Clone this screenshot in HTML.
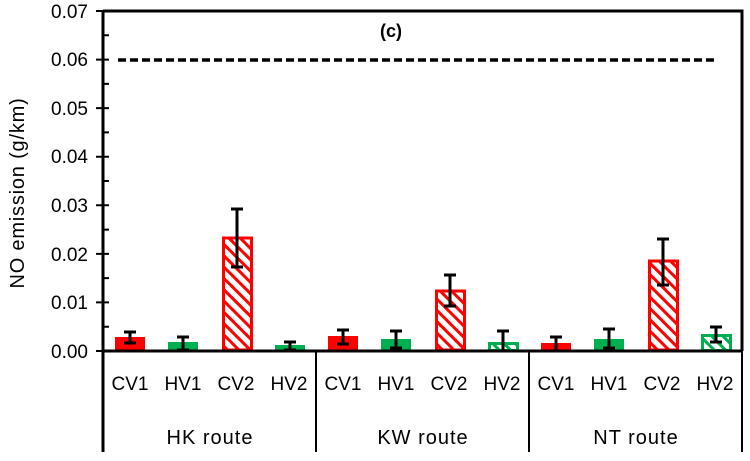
<!DOCTYPE html>
<html><head><style>body{margin:0;background:#fff}svg{display:block}text{font-family:"Liberation Sans",sans-serif;fill:#000}</style></head>
<body>
<svg width="750" height="461" viewBox="0 0 750 461">
<defs>
<pattern id="hr" patternUnits="userSpaceOnUse" width="8" height="8" patternTransform="rotate(-45)"><rect width="8" height="8" fill="#fff"/><rect x="0" y="0" width="3" height="8" fill="#f00"/></pattern>
<pattern id="hg" patternUnits="userSpaceOnUse" width="8" height="8" patternTransform="rotate(-45)"><rect width="8" height="8" fill="#fff"/><rect x="0" y="0" width="3" height="8" fill="#00b050"/></pattern>
</defs>
<g>
<rect x="115" y="337" width="30" height="14" fill="#f00"/>
<rect x="168" y="342" width="30" height="9" fill="#00b050"/>
<rect x="223.5" y="238" width="28" height="112" fill="url(#hr)" stroke="#f00" stroke-width="3"/>
<rect x="275" y="345" width="30" height="6" fill="#00b050"/>

<rect x="328" y="336" width="30" height="15" fill="#f00"/>
<rect x="381" y="339" width="30" height="12" fill="#00b050"/>
<rect x="436.5" y="291" width="28" height="59" fill="url(#hr)" stroke="#f00" stroke-width="3"/>
<rect x="489.5" y="343.5" width="28" height="7" fill="url(#hg)" stroke="#00b050" stroke-width="3"/>

<rect x="541" y="343" width="30" height="8" fill="#f00"/>
<rect x="594" y="339" width="30" height="12" fill="#00b050"/>
<rect x="649.5" y="261" width="28" height="89" fill="url(#hr)" stroke="#f00" stroke-width="3"/>
<rect x="702.5" y="335.5" width="28" height="15" fill="url(#hg)" stroke="#00b050" stroke-width="3"/>
</g>
<g stroke="#000" stroke-width="3">
<path d="M130 332V343M124 332H136M124 343H136"/>
<path d="M183 337V350M177 337H189M177 350H189"/>
<path d="M237 209V267M231 209H243M231 267H243"/>
<path d="M290 342V350M284 342H296M284 350H296"/>
<path d="M343 330V344M337 330H349M337 344H349"/>
<path d="M396 331V348M390 331H402M390 348H402"/>
<path d="M450 275V306M444 275H456M444 306H456"/>
<path d="M503 331V351M497 331H509"/>
<path d="M556 337V351M550 337H562"/>
<path d="M609 329V348M603 329H615M603 348H615"/>
<path d="M663 239V285M657 239H669M657 285H669"/>
<path d="M716 327V342M710 327H722M710 342H722"/>
</g>
<line x1="118" y1="60" x2="718" y2="60" stroke="#000" stroke-width="3.5" stroke-dasharray="8,4"/>
<g stroke="#000" stroke-width="3" fill="none">
<path d="M103 11H742V351"/>
<path d="M103 11V452"/>
<path d="M103 351H742"/>
</g>
<g stroke="#000" stroke-width="2">
<path d="M316 351V452M529 351V452M742 351V452"/>
<path d="M96 11H109M96 59.6H109M96 108.1H109M96 156.7H109M96 205.3H109M96 253.9H109M96 302.4H109M96 351H109"/>
<path d="M103 35.3H109M103 83.9H109M103 132.4H109M103 181H109M103 229.6H109M103 278.1H109M103 326.7H109"/>
</g>
<g font-size="19" text-anchor="end">
<text x="88" y="18">0.07</text><text x="88" y="66">0.06</text><text x="88" y="115">0.05</text><text x="88" y="163">0.04</text><text x="88" y="212">0.03</text><text x="88" y="261">0.02</text><text x="88" y="309">0.01</text><text x="88" y="358">0.00</text>
</g>
<text transform="translate(24,193) rotate(-90)" font-size="20" letter-spacing="0.8" text-anchor="middle">NO emission (g/km)</text>
<text x="391" y="37" font-size="18" font-weight="bold" text-anchor="middle">(c)</text>
<g font-size="19" text-anchor="middle">
<text x="130" y="390">CV1</text><text x="183" y="390">HV1</text><text x="236" y="390">CV2</text><text x="289" y="390">HV2</text>
<text x="343" y="390">CV1</text><text x="396" y="390">HV1</text><text x="449" y="390">CV2</text><text x="502" y="390">HV2</text>
<text x="556" y="390">CV1</text><text x="609" y="390">HV1</text><text x="662" y="390">CV2</text><text x="715" y="390">HV2</text>
</g>
<g font-size="20" letter-spacing="1" text-anchor="middle">
<text x="210" y="444">HK route</text><text x="423" y="444">KW route</text><text x="636" y="444">NT route</text>
</g>
</svg>
</body></html>
